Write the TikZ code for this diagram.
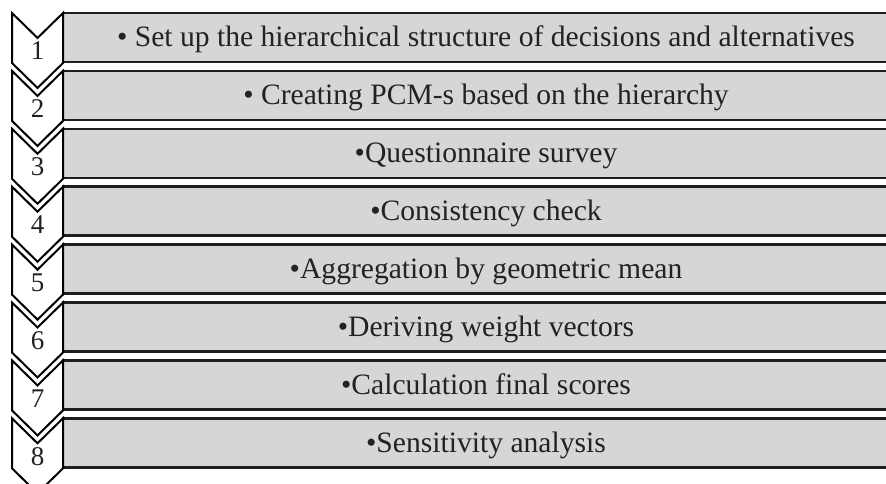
\documentclass[tikz,border=0pt]{standalone}
\usepackage{fontspec}
\setmainfont{Liberation Serif}
\definecolor{boxfill}{HTML}{D5D6D8}
\definecolor{edge}{HTML}{1E1E1E}
\definecolor{ink}{HTML}{222222}
\begin{document}
\begin{tikzpicture}[x=1pt,y=-1pt,
  stepbox/.style={rectangle,draw=edge,fill=boxfill,line width=2.5pt,minimum width=846pt,minimum height=49pt,inner sep=0pt},
  chev/.style={draw=black,fill=white,line width=2pt,line join=miter},
  num/.style={anchor=base,inner sep=0pt,text=ink,font=\fontsize{27}{30}\selectfont},
  txt/.style={anchor=base,inner sep=0pt,text=ink,font=\fontsize{29.6}{34}\selectfont}]
\useasboundingbox (0,0) rectangle (886,484);
\clip (0,0) rectangle (886,484);
\foreach \i/\txtc in {1/{• Set up the hierarchical structure of decisions and alternatives},
  2/{• Creating PCM-s based on the hierarchy},
  3/{•Questionnaire survey},
  4/{•Consistency check},
  5/{•Aggregation by geometric mean},
  6/{•Deriving weight vectors},
  7/{•Calculation final scores},
  8/{•Sensitivity analysis}} {
  \pgfmathsetmacro\t{13+57.9*(\i-1)}
  \node[stepbox] (r\i) at (486,\t+24.5) {};
  \draw[chev] (12,\t) -- (37.5,\t+25) -- (63,\t) -- (63,\t+50) -- (37.5,\t+75) -- (12,\t+50) -- cycle;
  \node[num] (n\i) at (37.5,\t+47) {\i};
  \node[txt] (t\i) at (486,\t+34) {\txtc};
}
\end{tikzpicture}
\end{document}
